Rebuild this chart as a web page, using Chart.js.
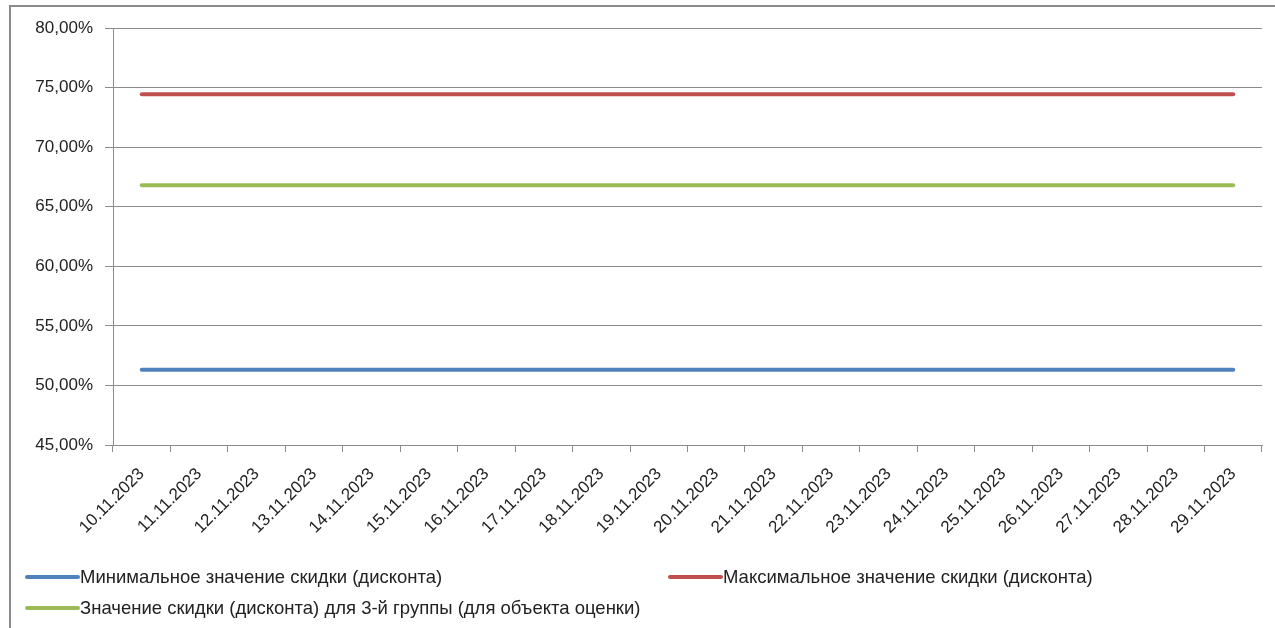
<!DOCTYPE html>
<html>
<head>
<meta charset="utf-8">
<script src="https://cdn.jsdelivr.net/npm/chart.js@4.4.0/dist/chart.umd.min.js"></script>
<style>
    html, body { margin: 0; padding: 0; background: #fff; }
    #wrap { position: relative; width: 1275px; height: 628px; overflow: hidden; }
    #frame { position: absolute; left: 9px; top: 5px; width: 1400px; height: 800px;
             border-top: 2px solid #8a8a8a; border-left: 2px solid #8a8a8a; }
    #chart { position: absolute; left: 0; top: 0; }
</style>
</head>
<body>
<div id="wrap">
    <div id="frame"></div>
    <canvas id="chart" width="1275" height="628"></canvas>
</div>
<script>
const dates = [
    '10.11.2023', '11.11.2023', '12.11.2023', '13.11.2023', '14.11.2023',
    '15.11.2023', '16.11.2023', '17.11.2023', '18.11.2023', '19.11.2023',
    '20.11.2023', '21.11.2023', '22.11.2023', '23.11.2023', '24.11.2023',
    '25.11.2023', '26.11.2023', '27.11.2023', '28.11.2023', '29.11.2023'
];

// discount values, %
const minDiscount = [51.32, 51.32, 51.32, 51.32, 51.32, 51.32, 51.32, 51.32, 51.32, 51.32,
                     51.32, 51.32, 51.32, 51.32, 51.32, 51.32, 51.32, 51.32, 51.32, 51.32];
const maxDiscount = [74.44, 74.44, 74.44, 74.44, 74.44, 74.44, 74.44, 74.44, 74.44, 74.44,
                     74.44, 74.44, 74.44, 74.44, 74.44, 74.44, 74.44, 74.44, 74.44, 74.44];
const group3Discount = [66.8, 66.8, 66.8, 66.8, 66.8, 66.8, 66.8, 66.8, 66.8, 66.8,
                        66.8, 66.8, 66.8, 66.8, 66.8, 66.8, 66.8, 66.8, 66.8, 66.8];

const seriesNames = [
    'Минимальное значение скидки (дисконта)',
    'Максимальное значение скидки (дисконта)',
    'Значение скидки (дисконта) для 3-й группы (для объекта оценки)'
];

const yMin = 45;
const yMax = 80;
const yStep = 5;

const gridColor = '#8c8c8c';
const textColor = '#222';
const fontName = '"Liberation Sans", Arial, sans-serif';

// where each legend entry sits (two columns, Excel style)
const legendSpots = [{ x: 27, y: 577 }, { x: 670, y: 577 }, { x: 27, y: 608 }];

const bottomLegend = {
    id: 'bottomLegend',
    afterDraw(chart) {
        const ctx = chart.ctx;
        chart.data.datasets.forEach((ds, i) => {
            const p = legendSpots[i];
            ctx.save();
            ctx.strokeStyle = ds.borderColor;
            ctx.lineWidth = 4;
            ctx.lineCap = 'round';
            ctx.beginPath();
            ctx.moveTo(p.x, p.y);
            ctx.lineTo(p.x + 51, p.y);
            ctx.stroke();
            ctx.fillStyle = textColor;
            ctx.font = '18.5px ' + fontName;
            ctx.textBaseline = 'middle';
            ctx.fillText(ds.label, p.x + 53, p.y + 1);
            ctx.restore();
        });
    }
};

function lineSet(label, data, color) {
    return {
        label: label,
        data: data,
        borderColor: color,
        backgroundColor: color,
        borderWidth: 4,
        borderCapStyle: 'round',
        pointRadius: 0,
        tension: 0,
        fill: false
    };
}

new Chart(document.getElementById('chart'), {
    type: 'line',
    data: {
        labels: dates,
        datasets: [
            lineSet(seriesNames[0], minDiscount, '#4f81bd'),
            lineSet(seriesNames[1], maxDiscount, '#c0504d'),
            lineSet(seriesNames[2], group3Discount, '#9bbb59')
        ]
    },
    options: {
        responsive: false,
        animation: false,
        layout: { padding: { left: 0, top: 28, right: 13, bottom: 0 } },
        plugins: {
            legend: { display: false },
            tooltip: { enabled: false }
        },
        scales: {
            x: {
                offset: true,
                grid: {
                    offset: true,
                    drawOnChartArea: false,
                    drawTicks: true,
                    tickLength: 7,
                    color: gridColor
                },
                border: { display: true, color: gridColor },
                ticks: {
                    autoSkip: false,
                    minRotation: 45,
                    maxRotation: 45,
                    padding: 12,
                    color: textColor,
                    font: { family: fontName, size: 17 }
                },
                afterFit(scale) { scale.height = 183; }
            },
            y: {
                min: yMin,
                max: yMax,
                grid: { color: gridColor, tickLength: 8 },
                border: { display: true, color: gridColor },
                ticks: {
                    stepSize: yStep,
                    padding: 12,
                    color: textColor,
                    font: { family: fontName, size: 17 },
                    callback: v => v.toFixed(2).replace('.', ',') + '%'
                },
                afterFit(scale) { scale.width = 113; }
            }
        }
    },
    plugins: [bottomLegend]
});
</script>
</body>
</html>
